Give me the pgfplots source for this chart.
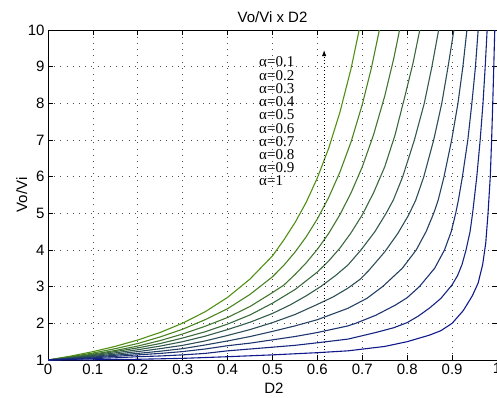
\documentclass[border=0pt]{standalone}
\usepackage{fontspec}
\setmainfont{Liberation Sans}
\newfontfamily\seriffont{Liberation Serif}
\usepackage{pgfplots}
\pgfplotsset{compat=1.18}
\usetikzlibrary{arrows.meta}
\definecolor{c1}{RGB}{80,145,20}
\definecolor{c2}{RGB}{73,132,33}
\definecolor{c3}{RGB}{66,118,47}
\definecolor{c4}{RGB}{58,105,60}
\definecolor{c5}{RGB}{51,92,73}
\definecolor{c6}{RGB}{44,78,87}
\definecolor{c7}{RGB}{37,65,100}
\definecolor{c8}{RGB}{29,52,113}
\definecolor{c9}{RGB}{22,38,127}
\definecolor{c10}{RGB}{15,25,140}
\begin{document}
\begin{tikzpicture}[x=1pt,y=1pt]
\begin{axis}[
  at={(48pt,37pt)}, anchor=south west,
  scale only axis, width=449pt, height=330pt,
  xmin=0, xmax=1, ymin=1, ymax=10,
  xtick={0,0.1,0.2,0.3,0.4,0.5,0.6,0.7,0.8,0.9,1},
  xticklabels={0,0.1,0.2,0.3,0.4,0.5,0.6,0.7,0.8,0.9,1},
  ytick={1,2,3,4,5,6,7,8,9,10},
  /pgf/number format/assume math mode=true,
  tick label style={font=\fontsize{15}{15}\selectfont},
  xtick pos=both, ytick pos=both,
  xticklabel pos=lower, yticklabel pos=left,
  tick align=inside, major tick length=5pt,
  every tick/.style={black, line width=0.8pt},
  axis line style={black, line width=1pt},
  grid=major,
  major grid style={black!70, line width=0.7pt, dash pattern=on 0.7pt off 5.5pt},
  no markers,
  every axis plot/.append style={line width=1.1pt},
]
\addplot[c1] coordinates {(0,1)(0.05,1.105)(0.1,1.228)(0.15,1.373)(0.2,1.545)(0.25,1.752)(0.3,2.005)(0.35,2.316)(0.4,2.708)(0.45,3.209)(0.5,3.84)(0.525,4.27)(0.55,4.745)(0.575,5.30)(0.6,5.97)(0.625,6.77)(0.65,7.75)(0.675,8.95)(0.693,10)};
\addplot[c2] coordinates {(0,1)(0.05,1.09)(0.1,1.19)(0.15,1.31)(0.2,1.45)(0.25,1.63)(0.3,1.84)(0.35,2.10)(0.4,2.40)(0.45,2.79)(0.5,3.27)(0.525,3.58)(0.55,3.94)(0.575,4.36)(0.6,4.85)(0.625,5.43)(0.65,6.12)(0.675,6.95)(0.7,7.97)(0.72,8.95)(0.738,10)};
\addplot[c3] coordinates {(0,1)(0.05,1.075)(0.1,1.16)(0.15,1.26)(0.2,1.38)(0.25,1.53)(0.3,1.71)(0.35,1.92)(0.4,2.16)(0.45,2.46)(0.5,2.84)(0.525,3.04)(0.55,3.33)(0.575,3.65)(0.6,4.02)(0.625,4.45)(0.65,4.96)(0.675,5.56)(0.7,6.27)(0.725,7.14)(0.75,8.20)(0.77,9.22)(0.783,10)};
\addplot[c4] coordinates {(0,1)(0.05,1.065)(0.1,1.14)(0.15,1.23)(0.2,1.33)(0.25,1.45)(0.3,1.60)(0.35,1.77)(0.4,1.98)(0.45,2.23)(0.5,2.55)(0.55,2.92)(0.6,3.40)(0.625,3.70)(0.65,4.05)(0.675,4.47)(0.7,4.96)(0.725,5.56)(0.75,6.27)(0.773,7.14)(0.795,8.2)(0.813,9.1)(0.828,10)};
\addplot[c5] coordinates {(0,1)(0.05,1.055)(0.1,1.12)(0.15,1.195)(0.2,1.28)(0.25,1.38)(0.3,1.50)(0.35,1.65)(0.4,1.83)(0.45,2.03)(0.5,2.27)(0.539,2.5)(0.575,2.75)(0.607,3.0)(0.64,3.3)(0.668,3.59)(0.697,4.0)(0.728,4.5)(0.753,5.0)(0.769,5.36)(0.790,6)(0.816,7)(0.838,8)(0.855,9)(0.870,10)};
\addplot[c6] coordinates {(0,1)(0.05,1.05)(0.1,1.10)(0.15,1.16)(0.2,1.23)(0.25,1.31)(0.3,1.40)(0.35,1.52)(0.4,1.67)(0.45,1.83)(0.5,2.02)(0.55,2.24)(0.597,2.5)(0.635,2.72)(0.668,2.96)(0.695,3.2)(0.715,3.45)(0.75,3.95)(0.779,4.45)(0.803,4.95)(0.819,5.36)(0.837,6)(0.859,7)(0.877,8)(0.891,9)(0.904,10)};
\addplot[c7] coordinates {(0,1)(0.05,1.04)(0.1,1.08)(0.15,1.13)(0.2,1.18)(0.25,1.24)(0.3,1.31)(0.35,1.41)(0.4,1.52)(0.45,1.64)(0.5,1.78)(0.55,1.93)(0.6,2.10)(0.668,2.41)(0.71,2.68)(0.745,3.0)(0.789,3.5)(0.82,4.0)(0.842,4.5)(0.859,5.0)(0.869,5.36)(0.882,6)(0.899,7)(0.913,8)(0.924,9)(0.933,10)};
\addplot[c8] coordinates {(0,1)(0.05,1.03)(0.1,1.06)(0.15,1.10)(0.2,1.14)(0.25,1.18)(0.3,1.23)(0.35,1.30)(0.4,1.39)(0.45,1.46)(0.5,1.55)(0.55,1.64)(0.6,1.75)(0.668,1.93)(0.685,2.0)(0.73,2.22)(0.774,2.5)(0.8,2.7)(0.827,3.0)(0.861,3.5)(0.883,4.0)(0.898,4.5)(0.908,5.0)(0.914,5.36)(0.923,6)(0.935,7)(0.944,8)(0.952,9)(0.958,10)};
\addplot[c9] coordinates {(0,1)(0.05,1.015)(0.1,1.04)(0.15,1.06)(0.2,1.09)(0.25,1.11)(0.3,1.14)(0.35,1.18)(0.4,1.25)(0.45,1.30)(0.5,1.35)(0.55,1.40)(0.6,1.47)(0.668,1.57)(0.73,1.75)(0.77,1.88)(0.8,2.02)(0.825,2.2)(0.85,2.42)(0.875,2.68)(0.9,3.05)(0.912,3.3)(0.922,3.6)(0.931,4.0)(0.94,4.5)(0.9456,5.0)(0.949,5.36)(0.955,6)(0.9625,7)(0.9688,8)(0.9737,9)(0.978,10)};
\addplot[c10] coordinates {(0,1)(0.1,1.005)(0.2,1.02)(0.3,1.045)(0.4,1.09)(0.5,1.14)(0.6,1.2)(0.668,1.25)(0.75,1.37)(0.8,1.5)(0.85,1.68)(0.875,1.8)(0.9,2.0)(0.925,2.35)(0.945,2.75)(0.958,3.1)(0.968,3.6)(0.975,4.2)(0.98,5.0)(0.985,6.0)(0.988,7)(0.9905,8)(0.9928,9)(0.995,10)};
\addplot[black, line width=0.8pt, dash pattern=on 0.8pt off 2.6pt, -{Latex[length=6pt,width=4.5pt]}] coordinates {(0.615,1)(0.615,9.45)};
\end{axis}
\node[anchor=base, font=\fontsize{15}{15}\selectfont] at (272.5,374) {Vo/Vi x D2};
\node[anchor=base, font=\fontsize{15}{15}\selectfont] at (274,4) {D2};
\node[rotate=90, anchor=base, font=\fontsize{15}{15}\selectfont] at (27,202) {Vo/Vi};
\foreach \i/\t in {0/0.1,1/0.2,2/0.3,3/0.4,4/0.5,5/0.6,6/0.7,7/0.8,8/0.9,9/1}{
  \node[anchor=base west, inner sep=0pt, font=\seriffont\fontsize{15}{15}\selectfont] at (259,{397-67-13.2*\i}) {α=\t};
}
\pgfresetboundingbox
\path[use as bounding box] (0,0) rectangle (497,397);
\end{tikzpicture}
\end{document}
